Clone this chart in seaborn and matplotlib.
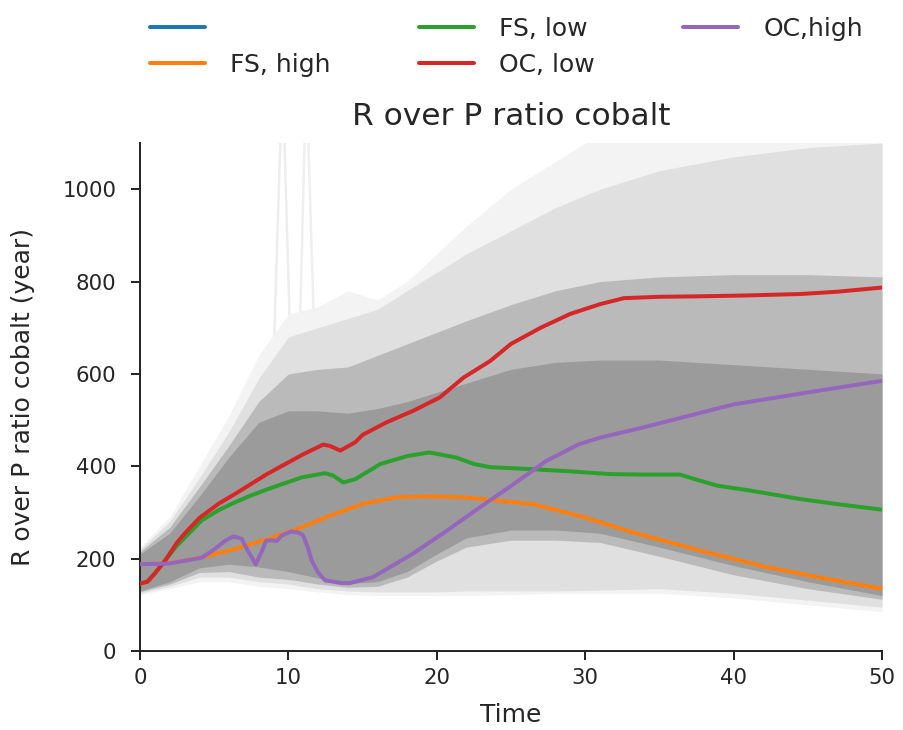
import numpy as np
import pandas as pd
import matplotlib
matplotlib.use("Agg")
import matplotlib.pyplot as plt
from matplotlib.lines import Line2D
import seaborn as sns

# ---------------------------------------------------------------
# Ensemble spread (R over P ratio of cobalt, years) as nested bands
# ---------------------------------------------------------------
t_env = [0, 2, 4, 6, 8, 10, 12, 14, 16, 18, 20, 22, 25, 28, 31, 35, 40, 45, 50]

faint_hi = [225, 290, 400, 510, 640, 730, 745, 780, 760, 800, 860, 920, 1000, 1060, 1120, 1150, 1150, 1150, 1150]
faint_lo = [122, 135, 150, 150, 140, 135, 128, 122, 120, 120, 120, 120, 122, 125, 125, 125, 115, 100, 85]

light_hi = [220, 280, 375, 475, 590, 680, 700, 720, 740, 780, 820, 860, 910, 960, 1000, 1040, 1070, 1090, 1100]
light_lo = [125, 140, 160, 160, 150, 145, 135, 130, 128, 128, 128, 130, 130, 130, 132, 135, 125, 110, 95]

mid_hi = [215, 268, 355, 445, 540, 600, 610, 615, 640, 665, 690, 715, 750, 780, 800, 810, 815, 815, 810]
mid_lo = [128, 145, 170, 172, 160, 155, 145, 138, 140, 160, 195, 225, 240, 240, 235, 205, 165, 135, 112]

core_hi = [210, 255, 335, 420, 495, 520, 520, 515, 525, 540, 560, 580, 610, 625, 630, 630, 620, 610, 600]
core_lo = [130, 150, 180, 188, 182, 172, 158, 146, 150, 172, 210, 245, 262, 262, 255, 225, 185, 150, 120]

# two runs that shoot off the top of the scale around t = 10
spike1_t = [8.8, 9.6, 10.3]
spike1_v = [430, 1250, 480]
spike2_t = [10.6, 11.2, 11.9]
spike2_v = [470, 1250, 520]

# ---------------------------------------------------------------
# Scenario runs
# ---------------------------------------------------------------
fs_high_t = [0, 2, 4.16, 6.4, 8.65, 10.9, 12.8, 15.05, 17.3, 19.5, 21.8, 24, 26.5, 29.9, 33.2, 37.7, 42.2, 46, 50]
fs_high_v = [188, 190, 203, 221, 243, 268, 293, 319, 333, 335, 333, 326, 318, 290, 257, 218, 182, 158, 135]

fs_low_t = [0, 0.5, 1, 1.7, 2.4, 3, 4.16, 5.3, 6.4, 7.5, 8.65, 10.9, 12.47, 13.0, 13.7, 14.5, 16.2, 18,
            19.5, 21.3, 22.5, 23.6, 26.3, 29, 31.7, 34, 36.4, 37.3, 38.9, 41, 44.5, 47, 50]
fs_low_v = [146, 150, 168, 196, 225, 245, 283, 305, 322, 337, 351, 376, 385, 380, 365, 372, 405, 422,
            430, 419, 405, 398, 394, 389, 383, 382, 382, 373, 358, 348, 329, 318, 306]

oc_low_t = [0, 0.5, 1, 1.7, 2.5, 3, 4, 5.3, 6.5, 7.5, 8.5, 9.8, 11, 12.35, 12.8, 13.5, 14.5, 15, 16.6,
            18.4, 20.2, 21.8, 23.6, 25, 27, 29, 31, 32.6, 35, 37.7, 41, 44.5, 47, 50]
oc_low_v = [146, 150, 168, 196, 235, 254, 288, 319, 342, 362, 382, 405, 426, 447, 444, 434, 452, 468, 495,
            520, 549, 592, 628, 665, 700, 730, 751, 764, 767, 768, 770, 773, 778, 787]

oc_high_t = [0, 1.9, 4.16, 5.05, 5.7, 6.3, 6.85, 7.3, 7.8, 8.2, 8.5, 8.9, 9.2, 9.55, 10.2, 10.7, 11.0,
             11.3, 11.57, 12.0, 12.47, 13.6, 14.15, 15.7, 18.4, 20.7, 22.9, 25.2, 27.4, 29.6, 31.0,
             33.9, 40, 45.6, 50]
oc_high_v = [188, 189, 202, 221, 238, 248, 243, 215, 188, 215, 239, 240, 238, 250, 259, 256, 250,
             225, 196, 170, 153, 147, 147, 160, 211, 261, 311, 362, 412, 448, 462,
             484, 534, 563, 585]

labels = ["", "FS, high", "FS, low", "OC, low", "OC,high"]

# ---------------------------------------------------------------
sns.set_style("ticks")
plt.rcParams["font.family"] = ["DejaVu Sans"]
plt.rcParams.update({
    "xtick.labelsize": 8.5,
    "ytick.labelsize": 8.5,
    "ytick.major.pad": 6.0,
    "axes.labelsize": 10,
    "legend.fontsize": 10,
})

palette = sns.color_palette("tab10")

fig = plt.figure(figsize=(903 / 180, 730 / 180), dpi=180)
ax = fig.add_axes([140 / 903, 1 - 651 / 730, 742 / 903, 508 / 730])

# faint runs leaving the scale, kept underneath the spread
ax.plot(spike1_t, spike1_v, color="#ededed", lw=1.0, zorder=0.5)
ax.plot(spike2_t, spike2_v, color="#efefef", lw=1.0, zorder=0.5)

# ensemble spread, from the outer envelope inwards
for lo, hi, col in [(faint_lo, faint_hi, "#f3f3f3"),
                    (light_lo, light_hi, "#e0e0e0"),
                    (mid_lo, mid_hi, "#bababa"),
                    (core_lo, core_hi, "#9b9b9b")]:
    ax.fill_between(t_env, lo, hi, color=col, lw=0, zorder=1)

series = [
    (fs_high_t, fs_high_v, palette[1], labels[1]),
    (fs_low_t, fs_low_v, palette[2], labels[2]),
    (oc_low_t, oc_low_v, palette[3], labels[3]),
    (oc_high_t, oc_high_v, palette[4], labels[4]),
]
for t, v, col, lab in series:
    df = pd.DataFrame({"Time": t, "value": v})
    sns.lineplot(data=df, x="Time", y="value", color=col, lw=1.6, ax=ax, zorder=3)

ax.set_xlim(0, 50)
ax.set_ylim(0, 1100)
ax.set_xticks([0, 10, 20, 30, 40, 50])
ax.set_yticks([0, 200, 400, 600, 800, 1000])
ax.set_xlabel("Time", labelpad=6)
ax.set_ylabel("R over P ratio cobalt (year)", labelpad=11)
ax.set_title("R over P ratio cobalt", fontsize=12.5, pad=7)
sns.despine(ax=ax)

handles = [Line2D([], [], color=palette[0], lw=1.6)] + \
          [Line2D([], [], color=c, lw=1.6) for _, _, c, _ in series]
ax.legend(handles, labels, loc="lower left", bbox_to_anchor=(0, 1.11, 0.988, 0.2),
          mode="expand", ncol=3, frameon=False, borderaxespad=0,
          handlelength=2.2, handletextpad=1.0)

fig.savefig("out.png", dpi=180)
